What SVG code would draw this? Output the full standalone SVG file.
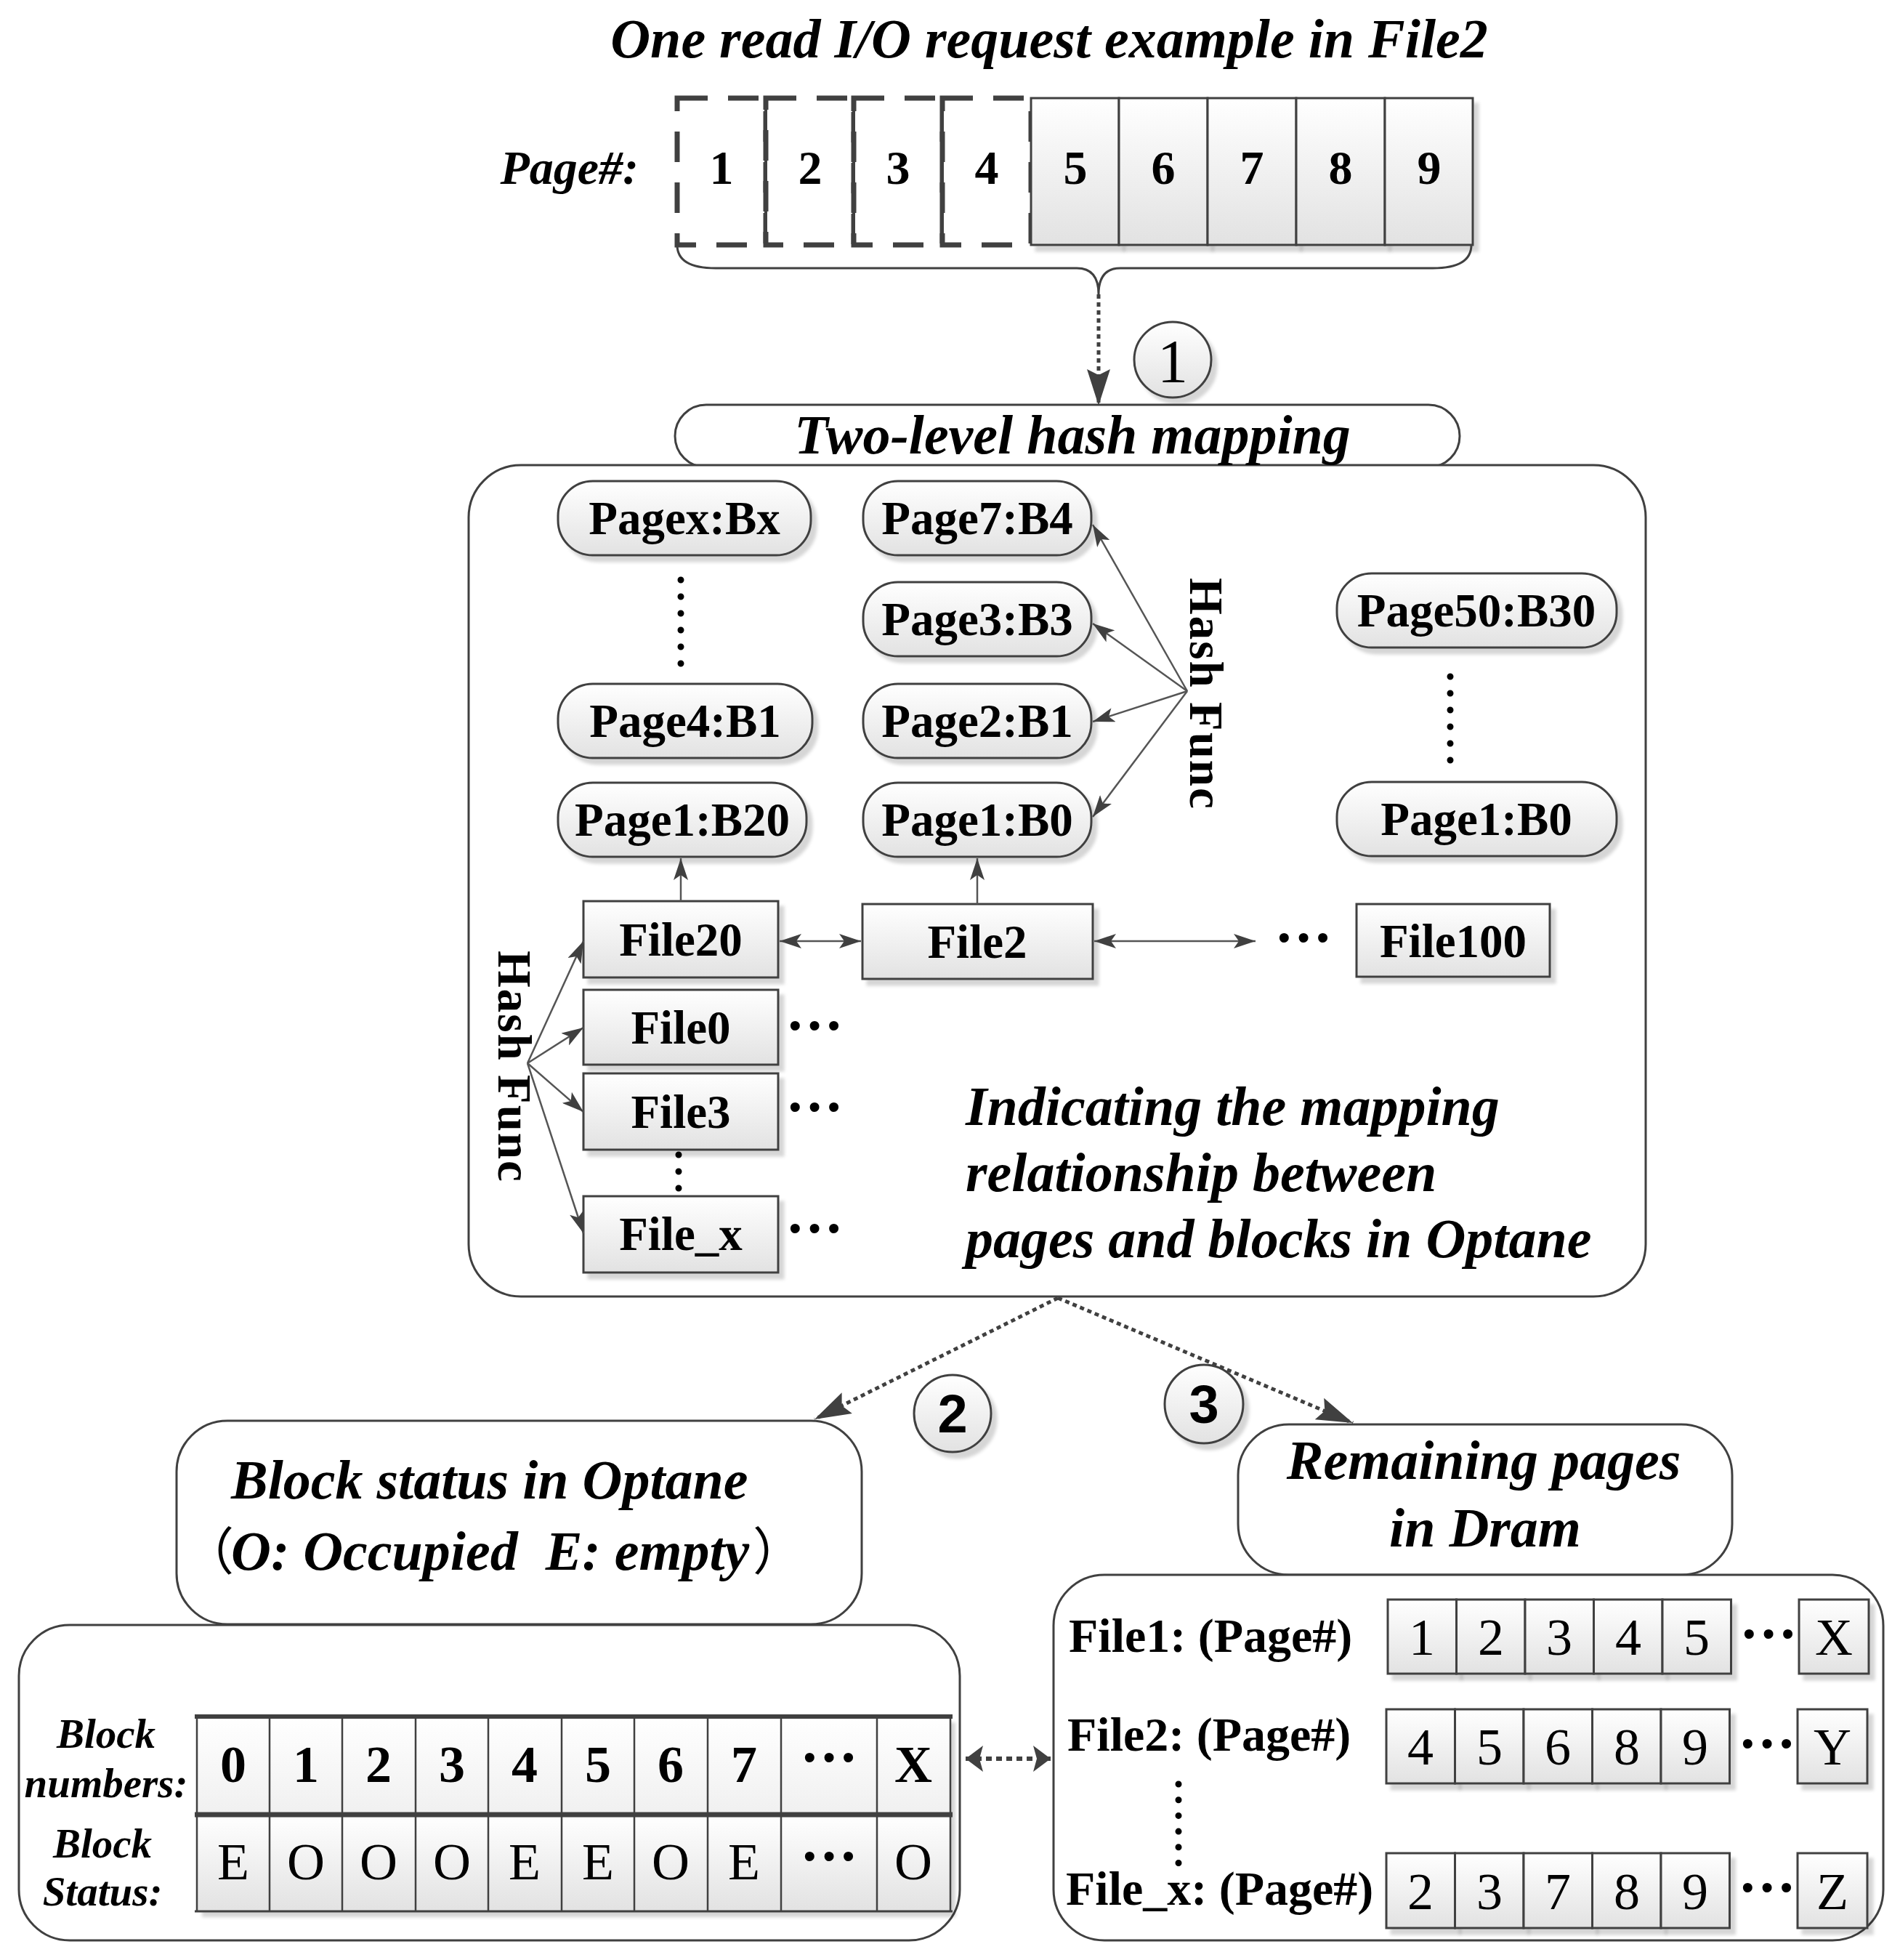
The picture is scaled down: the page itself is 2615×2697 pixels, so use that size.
<svg xmlns="http://www.w3.org/2000/svg" width="2615" height="2697" viewBox="0 0 2615 2697">
<defs>
<linearGradient id="g" x1="0" y1="0" x2="0" y2="1"><stop offset="0" stop-color="#ffffff"/><stop offset="1" stop-color="#e2e2e2"/></linearGradient>
<linearGradient id="gl" x1="0" y1="0" x2="0" y2="1"><stop offset="0" stop-color="#ffffff"/><stop offset="1" stop-color="#f0f0f0"/></linearGradient>
<filter id="sh" x="-10%" y="-10%" width="130%" height="140%"><feDropShadow dx="7" dy="8" stdDeviation="2" flood-color="#000" flood-opacity="0.16"/></filter>
<marker id="aS" viewBox="0 0 30 20" markerWidth="30" markerHeight="20" refX="30" refY="10" orient="auto-start-reverse" markerUnits="userSpaceOnUse"><path d="M0,0 L30,10 L0,20 L7,10 z" fill="#404040"/></marker>
<marker id="aB" viewBox="0 0 50 32" markerWidth="50" markerHeight="32" refX="50" refY="16" orient="auto-start-reverse" markerUnits="userSpaceOnUse"><path d="M0,0 L50,16 L0,32 L8,16 z" fill="#404040"/></marker>
<marker id="aW" viewBox="0 0 24 36" markerWidth="24" markerHeight="36" refX="24" refY="18" orient="auto-start-reverse" markerUnits="userSpaceOnUse"><path d="M0,0 L24,18 L0,36 L5,18 z" fill="#404040"/></marker>
<style>
.t{font-family:"Liberation Serif","Times New Roman",serif;fill:#000}
.hi{font-style:italic;font-weight:bold;font-size:76px}
.lab{font-style:italic;font-weight:bold;font-size:57px}
.b{font-weight:bold;font-size:65px}
.bd{font-weight:bold;font-size:72px}
.n{font-size:72px}
.dt{font-weight:bold;font-size:80px}
.m{text-anchor:middle}
.box{fill:url(#g);stroke:#404040;stroke-width:3;filter:url(#sh)}
.frame{fill:#fff;stroke:#404040;stroke-width:3}
.ln{stroke:#555;stroke-width:2.5;fill:none}
.dl{stroke:#404040;stroke-width:5;stroke-dasharray:6 5;fill:none}
.dots{stroke:#000;stroke-width:9;stroke-linecap:round;stroke-dasharray:0 23;fill:none}
.dash{fill:#fff;stroke:#404040;stroke-width:7;stroke-dasharray:42 28}
</style>
</defs>
<rect x="0" y="0" width="2615" height="2697" fill="#fff"/>

<text class="t hi m" x="1444" y="79">One read I/O request example in File2</text>

<g id="pages">
<text class="t m" x="879" y="253" style="font-style:italic;font-weight:bold;font-size:66px;text-anchor:end">Page#:</text>
<rect class="dash" x="932" y="135" width="122" height="202"/>
<rect class="dash" x="1054" y="135" width="121" height="202"/>
<rect class="dash" x="1175" y="135" width="122" height="202"/>
<rect class="dash" x="1297" y="135" width="122" height="202"/>
<line x1="1054" y1="135" x2="1054" y2="337" stroke="#404040" stroke-width="4"/>
<line x1="1175" y1="135" x2="1175" y2="337" stroke="#404040" stroke-width="4"/>
<line x1="1297" y1="135" x2="1297" y2="337" stroke="#404040" stroke-width="4"/>
<rect class="box" x="1419" y="135" width="121" height="202"/>
<rect class="box" x="1540" y="135" width="122" height="202"/>
<rect class="box" x="1662" y="135" width="122" height="202"/>
<rect class="box" x="1784" y="135" width="122" height="202"/>
<rect class="box" x="1906" y="135" width="121" height="202"/>
<g class="t b m" style="font-size:66px">
<text x="993" y="253">1</text><text x="1115" y="253">2</text><text x="1236" y="253">3</text><text x="1358" y="253">4</text>
<text x="1480" y="253">5</text><text x="1601" y="253">6</text><text x="1723" y="253">7</text><text x="1845" y="253">8</text><text x="1967" y="253">9</text>
</g>
</g>

<g id="step1">
<ellipse cx="1614" cy="495" rx="53" ry="52" fill="url(#g)" stroke="#404040" stroke-width="3" filter="url(#sh)"/>
<text class="t m" x="1614" y="526" style="font-size:84px">1</text>
</g>

<g id="hash-mapping">
<rect class="frame" x="929" y="557" width="1080" height="86" rx="43"/>
<rect class="frame" x="645" y="640" width="1620" height="1144" rx="72"/>
<text class="t hi m" x="1476" y="624">Two-level hash mapping</text>
</g>

<g id="pagex-bx"><rect class="box" x="768" y="662" width="348" height="102" rx="48"/><text class="t b m" x="942" y="735">Pagex:Bx</text></g>
<g id="page4-b1"><rect class="box" x="768" y="941" width="350" height="102" rx="48"/><text class="t b m" x="943" y="1014">Page4:B1</text></g>
<g id="page1-b20"><rect class="box" x="768" y="1077" width="342" height="102" rx="48"/><text class="t b m" x="939" y="1150">Page1:B20</text></g>
<g id="page7-b4"><rect class="box" x="1188" y="662" width="314" height="102" rx="48"/><text class="t b m" x="1345" y="735">Page7:B4</text></g>
<g id="page3-b3"><rect class="box" x="1188" y="801" width="314" height="102" rx="48"/><text class="t b m" x="1345" y="874">Page3:B3</text></g>
<g id="page2-b1"><rect class="box" x="1188" y="941" width="314" height="102" rx="48"/><text class="t b m" x="1345" y="1014">Page2:B1</text></g>
<g id="page1-b0"><rect class="box" x="1188" y="1077" width="314" height="102" rx="48"/><text class="t b m" x="1345" y="1150">Page1:B0</text></g>
<g id="page50-b30"><rect class="box" x="1840" y="789" width="385" height="102" rx="48"/><text class="t b m" x="2032" y="862">Page50:B30</text></g>
<g id="page1-b0-r"><rect class="box" x="1840" y="1076" width="385" height="102" rx="48"/><text class="t b m" x="2032" y="1149">Page1:B0</text></g>

<g id="file20"><rect class="box" x="803" y="1240" width="268" height="105"/><text class="t b m" x="937" y="1315">File20</text></g>
<g id="file0"><rect class="box" x="803" y="1362" width="268" height="103"/><text class="t b m" x="937" y="1436">File0</text></g>
<g id="file3"><rect class="box" x="803" y="1477" width="268" height="105"/><text class="t b m" x="937" y="1552">File3</text></g>
<g id="file_x"><rect class="box" x="803" y="1646" width="268" height="105"/><text class="t b m" x="937" y="1720">File_x</text></g>
<g id="file2"><rect class="box" x="1187" y="1244" width="317" height="103"/><text class="t b m" x="1345" y="1318">File2</text></g>
<g id="file100"><rect class="box" x="1867" y="1244" width="266" height="100"/><text class="t b m" x="2000" y="1317">File100</text></g>

<g id="hash-misc">
<line class="dots" x1="937" y1="798" x2="937" y2="920"/>
<line class="dots" x1="1996" y1="931" x2="1996" y2="1050"/>
<line class="dots" x1="934" y1="1589" x2="934" y2="1640"/>
<text class="t dt m" x="1121" y="1438">···</text>
<text class="t dt m" x="1121" y="1550">···</text>
<text class="t dt m" x="1121" y="1717">···</text>
<text class="t dt m" x="1794" y="1317">···</text>
<text class="t b m" transform="translate(1638,955) rotate(90)" style="letter-spacing:2px">Hash Func</text>
<text class="t b m" transform="translate(686,1468) rotate(90)" style="letter-spacing:2px">Hash Func</text>
<text class="t hi" x="1329" y="1548">Indicating the mapping</text>
<text class="t hi" x="1329" y="1639">relationship between</text>
<text class="t hi" x="1329" y="1730">pages and blocks in Optane</text>
</g>

<g id="step2">
<ellipse cx="1311" cy="1945" rx="53" ry="53" fill="url(#g)" stroke="#404040" stroke-width="3" filter="url(#sh)"/>
<text x="1311" y="1971" style="font-family:'Liberation Sans',Arial,sans-serif;font-weight:bold;font-size:74px;text-anchor:middle">2</text>
</g>
<g id="step3">
<ellipse cx="1657" cy="1932" rx="54" ry="54" fill="url(#g)" stroke="#404040" stroke-width="3" filter="url(#sh)"/>
<text x="1657" y="1958" style="font-family:'Liberation Sans',Arial,sans-serif;font-weight:bold;font-size:74px;text-anchor:middle">3</text>
</g>

<g id="block-status-title">
<rect class="frame" x="243" y="1955" width="943" height="280" rx="70"/>
<text class="t hi" x="318" y="2062">Block status in Optane</text>
<text class="t hi" x="292" y="2160" xml:space="preserve"><tspan x="252" style="font-family:'Noto Sans CJK SC',sans-serif;font-style:normal;font-weight:normal;font-size:70px">（</tspan><tspan x="318">O: Occupied  E: empty</tspan><tspan x="1036" style="font-family:'Noto Sans CJK SC',sans-serif;font-style:normal;font-weight:normal;font-size:70px">）</tspan></text>
</g>

<g id="block-table">
<rect class="frame" x="26" y="2236" width="1295" height="434" rx="70"/>
<text class="t lab m" x="146" y="2405">Block</text>
<text class="t lab m" x="146" y="2473">numbers:</text>
<text class="t lab m" x="141" y="2556">Block</text>
<text class="t lab m" x="141" y="2622">Status:</text>
<rect x="271" y="2362" width="1037" height="135" fill="url(#gl)" filter="url(#sh)"/>
<rect x="271" y="2497" width="1037" height="133" fill="url(#g)" filter="url(#sh)"/>
<g stroke="#404040" stroke-width="2.5">
<line x1="271" y1="2362" x2="271" y2="2630"/><line x1="371" y1="2362" x2="371" y2="2630"/><line x1="471" y1="2362" x2="471" y2="2630"/>
<line x1="572" y1="2362" x2="572" y2="2630"/><line x1="672" y1="2362" x2="672" y2="2630"/><line x1="773" y1="2362" x2="773" y2="2630"/>
<line x1="873" y1="2362" x2="873" y2="2630"/><line x1="974" y1="2362" x2="974" y2="2630"/><line x1="1075" y1="2362" x2="1075" y2="2630"/>
<line x1="1207" y1="2362" x2="1207" y2="2630"/><line x1="1308" y1="2362" x2="1308" y2="2630"/>
</g>
<line x1="268" y1="2362" x2="1311" y2="2362" stroke="#404040" stroke-width="6"/>
<line x1="268" y1="2497" x2="1311" y2="2497" stroke="#404040" stroke-width="7"/>
<line x1="268" y1="2630" x2="1311" y2="2630" stroke="#404040" stroke-width="3"/>
<g class="t bd m">
<text x="321" y="2452">0</text><text x="421" y="2452">1</text><text x="521" y="2452">2</text><text x="622" y="2452">3</text>
<text x="722" y="2452">4</text><text x="823" y="2452">5</text><text x="923" y="2452">6</text><text x="1024" y="2452">7</text>
<text x="1257" y="2452">X</text>
</g>
<g class="t n m">
<text x="321" y="2586">E</text><text x="421" y="2586">O</text><text x="521" y="2586">O</text><text x="622" y="2586">O</text>
<text x="722" y="2586">E</text><text x="823" y="2586">E</text><text x="923" y="2586">O</text><text x="1024" y="2586">E</text>
<text x="1257" y="2586">O</text>
</g>
<text class="t dt m" x="1141" y="2445">···</text>
<text class="t dt m" x="1141" y="2581">···</text>
</g>

<g id="remaining-title">
<rect class="frame" x="1704" y="1960" width="680" height="207" rx="70"/>
<text class="t hi m" x="2042" y="2035">Remaining pages</text>
<text class="t hi m" x="2044" y="2128">in Dram</text>
</g>

<g id="remaining-pages">
<rect class="frame" x="1450" y="2167" width="1142" height="503" rx="70"/>
<text class="t b" x="1471" y="2273" style="font-size:66px">File1: (Page#)</text>
<text class="t b" x="1469" y="2409" style="font-size:66px">File2: (Page#)</text>
<text class="t b" x="1467" y="2621" style="font-size:66px">File_x: (Page#)</text>
<line class="dots" x1="1622" y1="2455" x2="1622" y2="2568" style="stroke-dasharray:0 21.7"/>
<g>
<rect class="box" x="1910" y="2201" width="94.5" height="102"/><rect class="box" x="2004.5" y="2201" width="94.5" height="102"/><rect class="box" x="2099" y="2201" width="94.5" height="102"/><rect class="box" x="2193.5" y="2201" width="94.5" height="102"/><rect class="box" x="2288" y="2201" width="94.5" height="102"/><rect class="box" x="2476" y="2201" width="96" height="102"/>
<rect class="box" x="1908" y="2352" width="94.5" height="102"/><rect class="box" x="2002.5" y="2352" width="94.5" height="102"/><rect class="box" x="2097" y="2352" width="94.5" height="102"/><rect class="box" x="2191.5" y="2352" width="94.5" height="102"/><rect class="box" x="2286" y="2352" width="94.5" height="102"/><rect class="box" x="2474" y="2352" width="96" height="102"/>
<rect class="box" x="1908" y="2550" width="94.5" height="103"/><rect class="box" x="2002.5" y="2550" width="94.5" height="103"/><rect class="box" x="2097" y="2550" width="94.5" height="103"/><rect class="box" x="2191.5" y="2550" width="94.5" height="103"/><rect class="box" x="2286" y="2550" width="94.5" height="103"/><rect class="box" x="2474" y="2550" width="96" height="103"/>
</g>
<g class="t n m">
<text x="1957" y="2277">1</text><text x="2052" y="2277">2</text><text x="2146" y="2277">3</text><text x="2241" y="2277">4</text><text x="2335" y="2277">5</text><text x="2524" y="2277">X</text>
<text x="1955" y="2428">4</text><text x="2050" y="2428">5</text><text x="2144" y="2428">6</text><text x="2239" y="2428">8</text><text x="2333" y="2428">9</text><text x="2522" y="2428">Y</text>
<text x="1955" y="2627">2</text><text x="2050" y="2627">3</text><text x="2144" y="2627">7</text><text x="2239" y="2627">8</text><text x="2333" y="2627">9</text><text x="2522" y="2627">Z</text>
</g>
<text class="t dt m" x="2434" y="2275">···</text>
<text class="t dt m" x="2432" y="2426">···</text>
<text class="t dt m" x="2432" y="2624">···</text>
</g>

<g id="connectors">
<path class="ln" style="stroke:#404040;stroke-width:3" d="M932 337 Q932 369 985 369 L1482 369 Q1512 369 1512 405 Q1512 369 1542 369 L1972 369 Q2025 369 2025 337"/>
<line class="dl" x1="1512" y1="405" x2="1512" y2="558" marker-end="url(#aB)"/>
<line class="ln" x1="1634" y1="951" x2="1504" y2="722" marker-end="url(#aS)"/>
<line class="ln" x1="1634" y1="951" x2="1504" y2="858" marker-end="url(#aS)"/>
<line class="ln" x1="1634" y1="951" x2="1504" y2="993" marker-end="url(#aS)"/>
<line class="ln" x1="1634" y1="951" x2="1504" y2="1124" marker-end="url(#aS)"/>
<line class="ln" x1="726" y1="1463" x2="803" y2="1295" marker-end="url(#aS)"/>
<line class="ln" x1="726" y1="1463" x2="803" y2="1414" marker-end="url(#aS)"/>
<line class="ln" x1="726" y1="1463" x2="803" y2="1530" marker-end="url(#aS)"/>
<line class="ln" x1="726" y1="1463" x2="803" y2="1697" marker-end="url(#aS)"/>
<line class="ln" x1="937" y1="1240" x2="937" y2="1181" marker-end="url(#aS)"/>
<line class="ln" x1="1345" y1="1244" x2="1345" y2="1181" marker-end="url(#aS)"/>
<line class="ln" x1="1073" y1="1295" x2="1185" y2="1295" marker-start="url(#aS)" marker-end="url(#aS)"/>
<line class="ln" x1="1506" y1="1295" x2="1728" y2="1295" marker-start="url(#aS)" marker-end="url(#aS)"/>
<line class="dl" x1="1456" y1="1786" x2="1121" y2="1953" marker-end="url(#aB)"/>
<line class="dl" x1="1456" y1="1786" x2="1862" y2="1958" marker-end="url(#aB)"/>
<line class="dl" style="stroke-width:6;stroke-dasharray:8 6" x1="1329" y1="2420" x2="1446" y2="2420" marker-start="url(#aW)" marker-end="url(#aW)"/>
</g>
</svg>
